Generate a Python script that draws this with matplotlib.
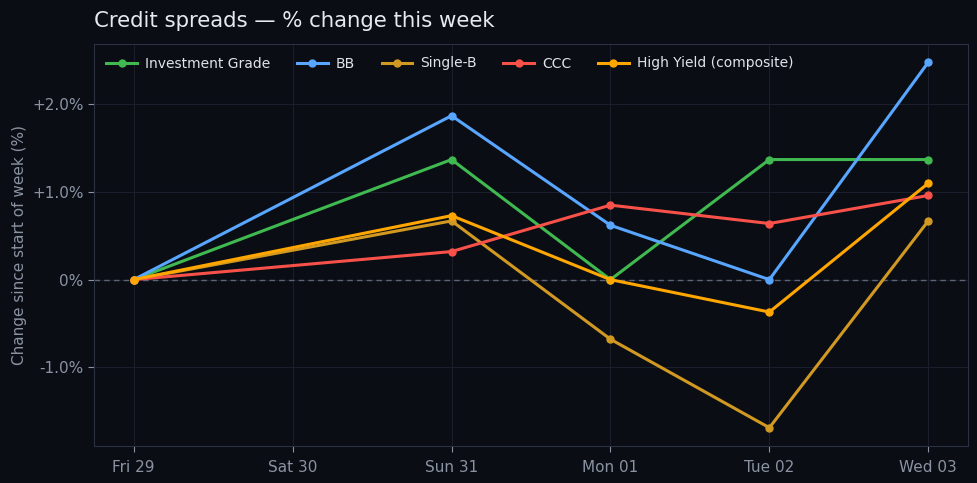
import numpy as np
import pandas as pd
import matplotlib
matplotlib.use("Agg")
import matplotlib.pyplot as plt
import matplotlib.dates as mdates
from matplotlib.ticker import FuncFormatter

dates = pd.to_datetime(["2024-03-29", "2024-03-31", "2024-04-01", "2024-04-02", "2024-04-03"])

series_names = ["Investment Grade", "BB", "Single-B", "CCC", "High Yield (composite)"]
ig = [0.0, 1.37, 0.0, 1.37, 1.37]
bb = [0.0, 1.87, 0.62, 0.0, 2.48]
single_b = [0.0, 0.67, -0.68, -1.69, 0.67]
ccc = [0.0, 0.32, 0.85, 0.64, 0.96]
hy = [0.0, 0.73, 0.0, -0.37, 1.10]
colors = ["#3fb950", "#58a6ff", "#d29922", "#f85149", "#ffa600"]

bg = "#0a0d14"
spine_c = "#2a3142"
text_c = "#8b93a3"

fig = plt.figure(figsize=(9.78, 4.83), dpi=100, facecolor=bg)
ax = fig.add_axes([94 / 978, 1 - 446 / 483, 874 / 978, 402 / 483])
ax.set_facecolor(bg)

for name, vals, c in zip(series_names, [ig, bb, single_b, ccc, hy], colors):
    ax.plot(dates, vals, color=c, lw=2.2, marker="o", ms=5, label=name, zorder=3)

ax.axhline(0, color="#5c6475", lw=1, ls=(0, (4, 3)), zorder=2)

ax.xaxis.set_major_locator(mdates.DayLocator())
ax.xaxis.set_major_formatter(mdates.DateFormatter("%a %d"))


def pct(v, pos):
    if abs(v) < 1e-9:
        return "0%"
    return ("+" if v > 0 else "") + "%.1f%%" % v


ax.yaxis.set_major_locator(plt.MultipleLocator(1.0))
ax.yaxis.set_major_formatter(FuncFormatter(pct))

ax.set_axisbelow(True)
ax.grid(True, color="#1a1f2b", lw=0.8)
for s in ax.spines.values():
    s.set_color(spine_c)
ax.tick_params(colors=text_c, labelsize=11, length=4)
ax.tick_params(axis="x", pad=6)
ax.set_ylabel("Change since start of week (%)", color=text_c, fontsize=11)
ax.yaxis.set_label_coords(-0.077, 0.5)

fig.text(94 / 978, 1 - 21 / 483, "Credit spreads — % change this week", color="#e6e9ef",
         fontsize=15.3, va="center", ha="left")

leg = ax.legend(loc="upper left", ncol=5, frameon=False, fontsize=10,
                labelcolor="#dfe3ea", handlelength=2.2, handletextpad=0.6,
                columnspacing=1.9, bbox_to_anchor=(0.0, 1.0))

fig.savefig("out.png", dpi=100, facecolor=bg)
